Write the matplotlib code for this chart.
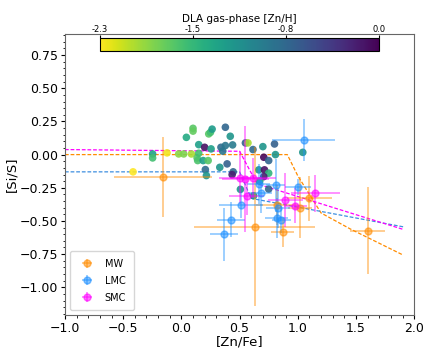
#-----------------------------------------------------------------#
# [Si/S] vs [Zn/Fe]: DLAs coloured by [Zn/H], MW / LMC / SMC with errors
#-----------------------------------------------------------------#
import numpy as np
import matplotlib
matplotlib.use('Agg')
import matplotlib.pyplot as plt
from matplotlib.ticker import MultipleLocator

#-----------------------------------------------------------------#
# DLA gas-phase points
dla_znfe = [-0.415, -0.247, -0.247, -0.123, -0.023, 0.02, 0.043, 0.10, 0.10, 0.086,
            0.135, 0.14, 0.149, 0.149, 0.187, 0.20, 0.23, 0.235, 0.25, 0.264,
            0.255, 0.206, 0.215, 0.33, 0.34, 0.378, 0.355, 0.378, 0.393, 0.42,
            0.44, 0.445, 0.436, 0.507, 0.55, 0.572, 0.615, 0.70, 0.80, 0.708,
            0.75, 0.808, 0.665, 0.714, 0.75, 0.708, 0.673, 0.75, 0.62, 1.043]
dla_sis = [-0.13, 0.005, -0.025, 0.013, 0.005, 0.005, 0.13, 0.198, 0.177, 0.005,
           -0.025, -0.045, 0.075, 0.01, -0.045, 0.055, -0.045, 0.156, 0.168, 0.192,
           0.043, -0.113, -0.158, -0.096, 0.055, 0.068, 0.026, 0.206, -0.07, 0.138,
           0.073, -0.13, -0.151, -0.262, 0.088, 0.088, 0.038, 0.06, 0.08, -0.02,
           -0.045, 0.0, -0.115, -0.115, -0.14, -0.166, -0.2, -0.26, -0.31, 0.017]
dla_znh = [-2.3, -1.3, -1.6, -2.25, -1.9, -1.85, -1.4, -1.7, -1.75, -2.0,
           -1.7, -1.65, -1.3, -1.6, -1.3, -0.1, -1.7, -1.7, -1.6, -1.25,
           -1.3, -0.8, -1.2, -1.2, -0.8, -0.9, -0.9, -0.75, -0.7, -1.2,
           -0.95, -0.75, -0.2, -1.2, -0.7, -2.0, -0.8, -1.2, -0.7, -0.05,
           -0.75, -1.2, -1.2, -0.1, -1.5, -0.2, -1.3, -0.75, -1.2, -1.2]

# Milky Way
mw_znfe = [-0.157, 0.63, 0.87, 0.82, 1.02, 1.10, 1.60]
mw_sis = [-0.171, -0.543, -0.586, -0.38, -0.40, -0.33, -0.573]
mw_xerr = [0.42, 0.52, 0.10, 0.18, 0.10, 0.19, 0.15]
mw_yerr = [0.30, 0.60, 0.11, 0.15, 0.23, 0.17, 0.33]

# LMC
lmc_znfe = [0.51, 0.427, 0.37, 1.05, 1.0, 0.81, 0.83, 0.82, 0.86, 0.665, 0.68]
lmc_sis = [-0.38, -0.49, -0.60, 0.11, -0.245, -0.23, -0.40, -0.48, -0.49, -0.22, -0.29]
lmc_xerr = [0.19, 0.12, 0.12, 0.27, 0.11, 0.08, 0.10, 0.10, 0.08, 0.10, 0.10]
lmc_yerr = [0.10, 0.13, 0.20, 0.16, 0.06, 0.20, 0.15, 0.15, 0.10, 0.15, 0.15]

# SMC
smc_znfe = [0.50, 0.55, 0.617, 0.56, 0.894, 1.152, 0.98]
smc_sis = [-0.176, -0.183, -0.178, -0.309, -0.342, -0.292, -0.385]
smc_xerr = [0.18, 0.20, 0.20, 0.15, 0.15, 0.21, 0.10]
smc_yerr = [0.20, 0.40, 0.15, 0.15, 0.20, 0.14, 0.13]

# dashed trend lines
mw_line_x = [-1.0, 0.91, 1.0, 1.2, 1.45, 1.9]
mw_line_y = [0.0, 0.0, -0.16, -0.44, -0.56, -0.755]
lmc_line_x = [-1.0, 0.5, 0.6, 1.91]
lmc_line_y = [-0.13, -0.13, -0.33, -0.545]
smc_line_x = [-1.0, 0.5, 0.65, 1.91]
smc_line_y = [0.038, 0.025, -0.22, -0.565]

cbar_ticks = np.linspace(-2.3, 0.0, 4)
cbar_labels = ['-2.3', '-1.5', '-0.8', '0.0']

#-----------------------------------------------------------------#
fig = plt.figure(figsize=(4.36, 3.49), dpi=100)
ax = fig.add_axes([0.149, 0.097, 0.801, 0.806])

ax.plot(mw_line_x, mw_line_y, '--', color='darkorange', lw=0.9, dashes=(3, 1.5))
ax.plot(lmc_line_x, lmc_line_y, '--', color='#3d8fe0', lw=0.9, dashes=(3, 1.5))
ax.plot(smc_line_x, smc_line_y, '--', color='magenta', lw=0.9, dashes=(3, 1.5))

sc = ax.scatter(dla_znfe, dla_sis, c=dla_znh, cmap='viridis_r', vmin=-2.3, vmax=0.0,
                s=30, alpha=0.9, edgecolors='none', zorder=3)

ax.errorbar(mw_znfe, mw_sis, xerr=mw_xerr, yerr=mw_yerr, fmt='o', color='darkorange',
            ms=5, alpha=0.55, elinewidth=1.1, label='MW', zorder=4)
ax.errorbar(lmc_znfe, lmc_sis, xerr=lmc_xerr, yerr=lmc_yerr, fmt='o', color='dodgerblue',
            ms=5, alpha=0.55, elinewidth=1.1, label='LMC', zorder=4)
ax.errorbar(smc_znfe, smc_sis, xerr=smc_xerr, yerr=smc_yerr, fmt='o', color='magenta',
            ms=5, alpha=0.55, elinewidth=1.1, label='SMC', zorder=4)

ax.set_xlim(-1.0, 2.0)
ax.set_ylim(-1.21, 0.91)
ax.xaxis.set_major_locator(MultipleLocator(0.5))
ax.xaxis.set_minor_locator(MultipleLocator(0.1))
ax.yaxis.set_major_locator(MultipleLocator(0.25))
ax.yaxis.set_minor_locator(MultipleLocator(0.05))
ax.tick_params(labelsize=9, pad=2)
ax.tick_params(which='major', length=3)
ax.tick_params(which='minor', length=1.8)
ax.set_xlabel('[Zn/Fe]', fontsize=9.5, labelpad=0)
ax.set_ylabel('[Si/S]', fontsize=9.5, labelpad=1)
for s in ax.spines.values():
    s.set_color('#666666')

ax.legend(loc='lower left', fontsize=7, borderpad=0.8, labelspacing=0.7)

# colorbar inset at the top
cax = fig.add_axes([0.229, 0.854, 0.640, 0.037])
cb = fig.colorbar(sc, cax=cax, orientation='horizontal', ticks=cbar_ticks)
cb.solids.set_alpha(1)
cb.ax.set_xticklabels(cbar_labels)
cax.xaxis.set_ticks_position('top')
cax.xaxis.set_label_position('top')
cax.tick_params(labelsize=6, length=2, pad=1)
cb.set_label('DLA gas-phase [Zn/H]', fontsize=7.5, labelpad=2)

plt.savefig('out.png', dpi=100)
